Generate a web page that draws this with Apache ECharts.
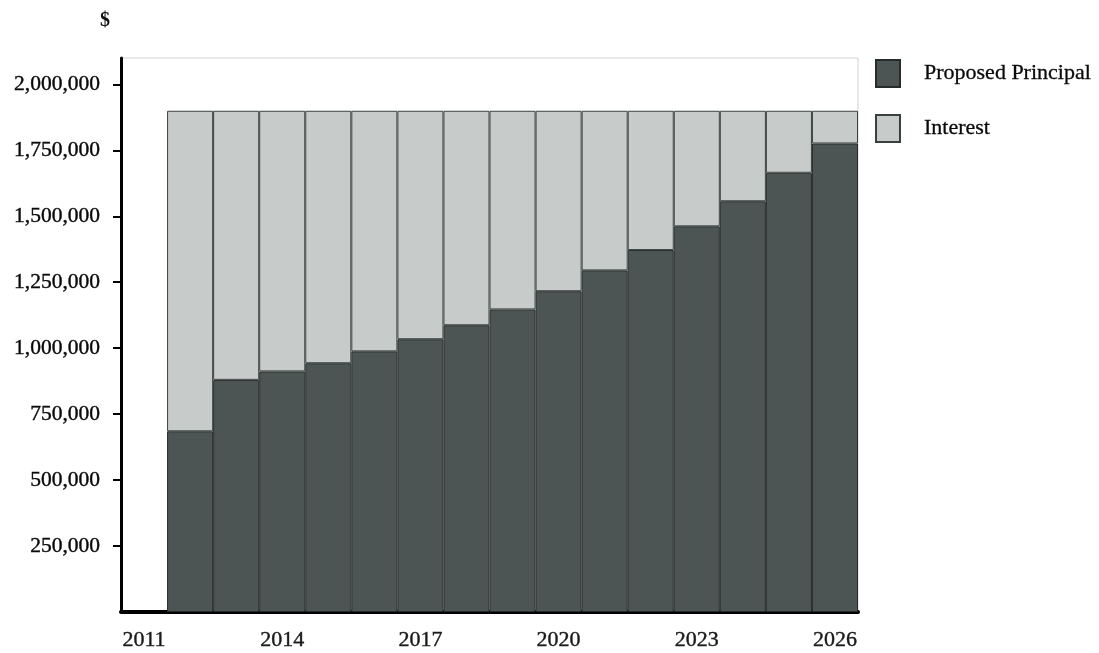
<!DOCTYPE html>
<html>
<head>
<meta charset="utf-8">
<script src="https://cdn.jsdelivr.net/npm/echarts@6/dist/echarts.min.js"></script>
<style>
html,body{margin:0;padding:0;background:#fff;}
#chart{width:1099px;height:653px;}
</style>
</head>
<body>
<div id="chart"></div>
<script>
const years = ['2011','2012','2013','2014','2015','2016','2017','2018','2019','2020','2021','2022','2023','2024','2025','2026'];
const principal = [null, 685000, 880000, 912000, 943000, 988000, 1034000, 1087000, 1147000, 1216000, 1295000, 1372000, 1462000, 1557000, 1665000, 1776000];
const interest  = [null, 1215000, 1020000, 988000, 957000, 912000, 866000, 813000, 753000, 684000, 605000, 528000, 438000, 343000, 235000, 124000];
const yTicks = [250000, 500000, 750000, 1000000, 1250000, 1500000, 1750000, 2000000];

const serif = '"Liberation Serif", "DejaVu Serif", serif';
const chart = echarts.init(document.getElementById('chart'));
chart.setOption({
  animation: false,
  backgroundColor: '#ffffff',
  title: {
    text: '$', left: 100, top: 11, padding: 0,
    textStyle: { fontFamily: serif, fontSize: 20, fontWeight: 'bold', color: '#111' }
  },
  legend: {
    orient: 'vertical', left: 875, top: 59, padding: 0, itemWidth: 24, itemHeight: 27, itemGap: 26,
    icon: 'rect',
    textStyle: { fontFamily: serif, fontSize: 22, color: '#0a0a0a', padding: [0, 0, 0, 19],
                 textBorderColor: '#0a0a0a', textBorderWidth: 0.3 },
    data: ['Proposed Principal', 'Interest']
  },
  grid: {
    left: 121, right: 241, top: 58, bottom: 41,
    show: true, borderColor: '#d2d2d2', borderWidth: 1
  },
  xAxis: {
    type: 'category', data: years, boundaryGap: true,
    axisLine: { lineStyle: { color: '#000', width: 4 } },
    axisTick: { show: false },
    axisLabel: { interval: 2, margin: 17, fontFamily: serif, fontSize: 22, color: '#1a1a1a',
                 textBorderColor: '#1a1a1a', textBorderWidth: 0.4 }
  },
  yAxis: {
    type: 'value', min: 0, max: 2100000, interval: 250000,
    splitLine: { show: false },
    axisLine: { show: true, lineStyle: { color: '#000', width: 3 } },
    axisTick: { show: true, length: 8, lineStyle: { color: '#000', width: 2 }, customValues: yTicks },
    axisLabel: {
      margin: 21, fontFamily: serif, fontSize: 21.5, color: '#0a0a0a', customValues: yTicks,
      textBorderColor: '#0a0a0a', textBorderWidth: 0.4,
      formatter: v => v.toLocaleString('en-US')
    }
  },
  series: [
    {
      name: 'Proposed Principal', type: 'bar', stack: 'total', data: principal,
      barCategoryGap: '0%',
      itemStyle: { color: '#4c5553', borderColor: '#262c2b', borderWidth: 1 }
    },
    {
      name: 'Interest', type: 'bar', stack: 'total', data: interest,
      barCategoryGap: '0%',
      itemStyle: { color: '#c7ccca', borderColor: '#3a403f', borderWidth: 1 }
    }
  ]
});
</script>
</body>
</html>
